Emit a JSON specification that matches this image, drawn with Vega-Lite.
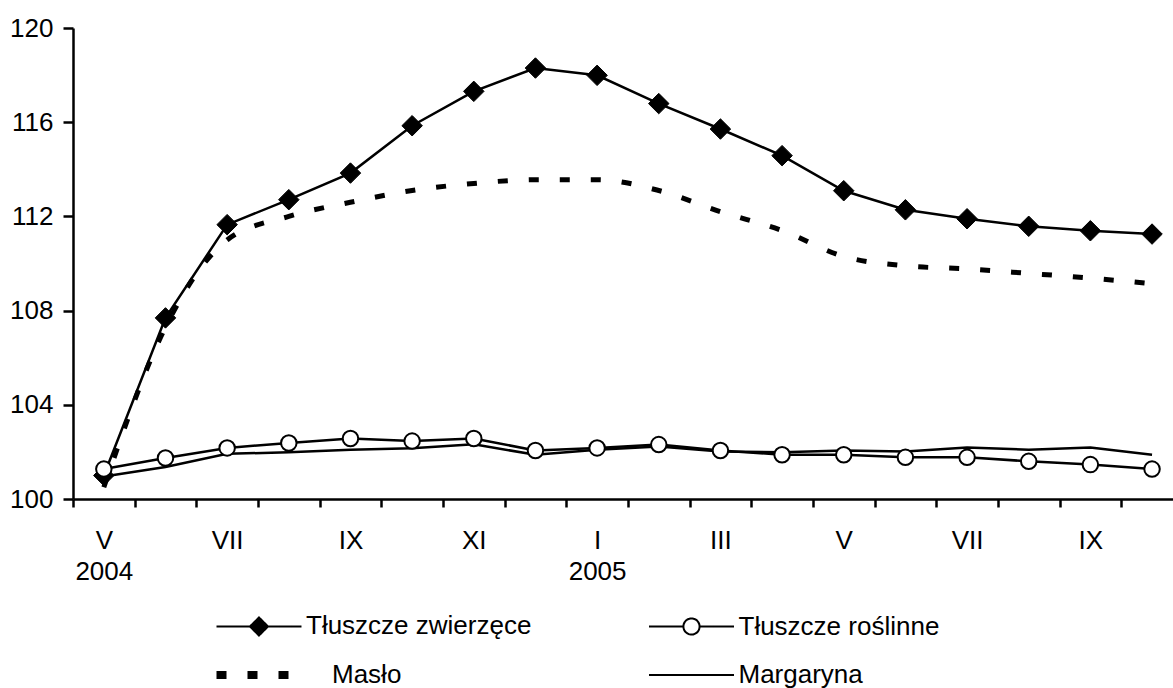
{
  "$schema": "https://vega.github.io/schema/vega-lite/v6.json",
  "width": 1100,
  "height": 471,
  "autosize": {"type": "none"},
  "padding": {"left": 73, "top": 28, "right": 0, "bottom": 189},
  "background": "white",
  "config": {
    "view": {"stroke": null},
    "font": "Liberation Sans",
    "axis": {"labelFont": "Liberation Sans", "labelFontSize": 26, "labelColor": "black", "domainColor": "black", "tickColor": "black", "domainWidth": 2.5, "tickWidth": 2.5, "grid": false, "title": null}
  },
  "data": {
    "values": [
      {"m": 0, "s": "Tłuszcze zwierzęce", "v": 101.0},
      {"m": 1, "s": "Tłuszcze zwierzęce", "v": 107.69},
      {"m": 2, "s": "Tłuszcze zwierzęce", "v": 111.65},
      {"m": 3, "s": "Tłuszcze zwierzęce", "v": 112.71},
      {"m": 4, "s": "Tłuszcze zwierzęce", "v": 113.84},
      {"m": 5, "s": "Tłuszcze zwierzęce", "v": 115.85},
      {"m": 6, "s": "Tłuszcze zwierzęce", "v": 117.31},
      {"m": 7, "s": "Tłuszcze zwierzęce", "v": 118.3},
      {"m": 8, "s": "Tłuszcze zwierzęce", "v": 117.99},
      {"m": 9, "s": "Tłuszcze zwierzęce", "v": 116.79},
      {"m": 10, "s": "Tłuszcze zwierzęce", "v": 115.71},
      {"m": 11, "s": "Tłuszcze zwierzęce", "v": 114.58},
      {"m": 12, "s": "Tłuszcze zwierzęce", "v": 113.09},
      {"m": 13, "s": "Tłuszcze zwierzęce", "v": 112.28},
      {"m": 14, "s": "Tłuszcze zwierzęce", "v": 111.9},
      {"m": 15, "s": "Tłuszcze zwierzęce", "v": 111.58},
      {"m": 16, "s": "Tłuszcze zwierzęce", "v": 111.39},
      {"m": 17, "s": "Tłuszcze zwierzęce", "v": 111.25},
      {"m": 0, "s": "Tłuszcze roślinne", "v": 101.27},
      {"m": 1, "s": "Tłuszcze roślinne", "v": 101.74},
      {"m": 2, "s": "Tłuszcze roślinne", "v": 102.17},
      {"m": 3, "s": "Tłuszcze roślinne", "v": 102.38},
      {"m": 4, "s": "Tłuszcze roślinne", "v": 102.57},
      {"m": 5, "s": "Tłuszcze roślinne", "v": 102.46},
      {"m": 6, "s": "Tłuszcze roślinne", "v": 102.57},
      {"m": 7, "s": "Tłuszcze roślinne", "v": 102.06},
      {"m": 8, "s": "Tłuszcze roślinne", "v": 102.17},
      {"m": 9, "s": "Tłuszcze roślinne", "v": 102.31},
      {"m": 10, "s": "Tłuszcze roślinne", "v": 102.06},
      {"m": 11, "s": "Tłuszcze roślinne", "v": 101.88},
      {"m": 12, "s": "Tłuszcze roślinne", "v": 101.88},
      {"m": 13, "s": "Tłuszcze roślinne", "v": 101.77},
      {"m": 14, "s": "Tłuszcze roślinne", "v": 101.77},
      {"m": 15, "s": "Tłuszcze roślinne", "v": 101.6},
      {"m": 16, "s": "Tłuszcze roślinne", "v": 101.46},
      {"m": 17, "s": "Tłuszcze roślinne", "v": 101.27},
      {"m": 0, "s": "Masło", "v": 100.5},
      {"m": 1, "s": "Masło", "v": 107.3},
      {"m": 2, "s": "Masło", "v": 111.0},
      {"m": 3, "s": "Masło", "v": 112.0},
      {"m": 4, "s": "Masło", "v": 112.6},
      {"m": 5, "s": "Masło", "v": 113.1},
      {"m": 6, "s": "Masło", "v": 113.4},
      {"m": 7, "s": "Masło", "v": 113.56},
      {"m": 8, "s": "Masło", "v": 113.56},
      {"m": 9, "s": "Masło", "v": 113.1},
      {"m": 10, "s": "Masło", "v": 112.2},
      {"m": 11, "s": "Masło", "v": 111.4},
      {"m": 12, "s": "Masło", "v": 110.3},
      {"m": 13, "s": "Masło", "v": 109.9},
      {"m": 14, "s": "Masło", "v": 109.77},
      {"m": 15, "s": "Masło", "v": 109.58},
      {"m": 16, "s": "Masło", "v": 109.38},
      {"m": 17, "s": "Masło", "v": 109.14},
      {"m": 0, "s": "Margaryna", "v": 100.96},
      {"m": 1, "s": "Margaryna", "v": 101.36},
      {"m": 2, "s": "Margaryna", "v": 101.92},
      {"m": 3, "s": "Margaryna", "v": 101.98},
      {"m": 4, "s": "Margaryna", "v": 102.09},
      {"m": 5, "s": "Margaryna", "v": 102.15},
      {"m": 6, "s": "Margaryna", "v": 102.32},
      {"m": 7, "s": "Margaryna", "v": 101.88},
      {"m": 8, "s": "Margaryna", "v": 102.09},
      {"m": 9, "s": "Margaryna", "v": 102.23},
      {"m": 10, "s": "Margaryna", "v": 102.02},
      {"m": 11, "s": "Margaryna", "v": 101.98},
      {"m": 12, "s": "Margaryna", "v": 102.06},
      {"m": 13, "s": "Margaryna", "v": 102.02},
      {"m": 14, "s": "Margaryna", "v": 102.19},
      {"m": 15, "s": "Margaryna", "v": 102.09},
      {"m": 16, "s": "Margaryna", "v": 102.19},
      {"m": 17, "s": "Margaryna", "v": 101.88}
    ]
  },
  "encoding": {
    "x": {
      "field": "m",
      "type": "quantitative",
      "scale": {"domain": [-0.5, 17.34], "nice": false, "zero": false},
      "axis": {
        "values": [-0.5, 0, 0.5, 1.5, 2, 2.5, 3.5, 4, 4.5, 5.5, 6, 6.5, 7.5, 8, 8.5, 9.5, 10, 10.5, 11.5, 12, 12.5, 13.5, 14, 14.5, 15.5, 16, 16.5],
        "tickSize": 8,
        "tickOpacity": {"expr": "datum.value % 1 === 0 ? 0 : 1"},
        "labelExpr": "datum.value === 0 ? ['V', '2004'] : datum.value === 2 ? 'VII' : datum.value === 4 ? 'IX' : datum.value === 6 ? 'XI' : datum.value === 8 ? ['I', '2005'] : datum.value === 10 ? 'III' : datum.value === 12 ? 'V' : datum.value === 14 ? 'VII' : datum.value === 16 ? 'IX' : ''",
        "labelOverlap": false,
        "labelFlush": false,
        "labelBound": false,
        "labelPadding": 20,
        "labelLineHeight": 31
      }
    },
    "y": {
      "field": "v",
      "type": "quantitative",
      "scale": {"domain": [100, 120], "nice": false, "zero": false},
      "axis": {"values": [100, 104, 108, 112, 116, 120], "tickSize": 10, "labelPadding": 10}
    }
  },
  "layer": [
    {
      "transform": [{"filter": "datum.s === 'Masło'"}],
      "mark": {"type": "line", "interpolate": "monotone", "strokeDash": [10, 21], "strokeWidth": 5, "strokeCap": "butt"},
      "encoding": {
        "color": {
          "field": "s",
          "type": "nominal",
          "scale": {"domain": ["Tłuszcze zwierzęce", "Tłuszcze roślinne", "Masło", "Margaryna"], "range": ["black", "black", "black", "black"]},
          "legend": {
            "title": null,
            "orient": "none",
            "legendX": 173,
            "legendY": 585,
            "columns": 2,
            "direction": "horizontal",
            "padding": 0,
            "columnPadding": 112.5,
            "rowPadding": 19,
            "symbolSize": 7225,
            "symbolStrokeWidth": 2,
            "labelFont": "Liberation Sans",
            "labelFontSize": 26,
            "labelColor": "black",
            "labelLimit": 500,
            "labelOffset": 34,
            "encode": {
              "labels": {
                "update": {
                  "dx": {"signal": "datum.label === 'Masło' ? 26 : 0"}
                }
              },
              "symbols": {
                "update": {
                  "shape": {"signal": "datum.value === 'Tłuszcze zwierzęce' ? 'M-1,0H-0.212M-0.212,0L0,-0.212L0.212,0L0,0.212ZM0.212,0H1' : datum.value === 'Tłuszcze roślinne' ? 'M-1,0H-0.19A0.19,0.19,0,1,1,0.19,0A0.19,0.19,0,1,1,-0.19,0M0.19,0H1' : 'M-1,0H1'"},
                  "fill": {"signal": "datum.value === 'Tłuszcze zwierzęce' ? 'black' : datum.value === 'Tłuszcze roślinne' ? 'white' : 'transparent'"},
                  "fillOpacity": {"value": 1},
                  "opacity": {"value": 1},
                  "stroke": {"value": "black"},
                  "strokeWidth": {"signal": "datum.value === 'Masło' ? 8 : 2"},
                  "strokeDash": {"signal": "datum.value === 'Masło' ? [10, 21] : [1, 0]"},
                  "strokeCap": {"value": "butt"}
                }
              }
            }
          }
        }
      }
    },
    {
      "transform": [{"filter": "datum.s === 'Margaryna'"}],
      "mark": {"type": "line", "strokeWidth": 2.5},
      "encoding": {"color": {"field": "s", "type": "nominal"}}
    },
    {
      "transform": [{"filter": "datum.s === 'Tłuszcze roślinne'"}],
      "mark": {"type": "line", "strokeWidth": 2.5},
      "encoding": {"color": {"field": "s", "type": "nominal"}}
    },
    {
      "transform": [{"filter": "datum.s === 'Tłuszcze zwierzęce'"}],
      "mark": {"type": "line", "strokeWidth": 2.5},
      "encoding": {"color": {"field": "s", "type": "nominal"}}
    },
    {
      "transform": [{"filter": "datum.s === 'Tłuszcze zwierzęce'"}],
      "mark": {"type": "point", "shape": "diamond", "filled": true, "fill": "black", "stroke": "black", "strokeWidth": 1, "size": 420, "opacity": 1}
    },
    {
      "transform": [{"filter": "datum.s === 'Tłuszcze roślinne'"}],
      "mark": {"type": "point", "shape": "circle", "filled": true, "fill": "white", "stroke": "black", "strokeWidth": 2, "size": 240, "opacity": 1}
    }
  ]
}
